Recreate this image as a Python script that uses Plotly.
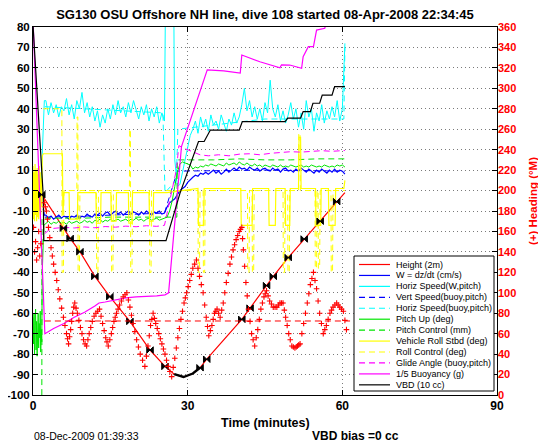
import plotly.graph_objects as go

# ---------------- data ----------------
T_DESC = [2.5, 3.0, 3.5, 4.0, 4.5, 5.0, 5.5, 6.0, 6.5, 7.0, 7.5, 8.0, 8.5, 9.0, 9.5, 10.0,
          10.5, 11.0, 11.5, 12.0, 12.5, 13.0, 13.5, 14.0, 14.5, 15.0, 15.5, 16.0, 16.5, 17.0,
          17.5, 18.0, 18.5, 19.0, 19.5, 20.0, 20.5, 21.0, 21.5, 22.0, 22.5, 23.0, 23.5, 24.0,
          24.5, 25.0, 25.5]
T_ASC = [31.0, 31.5, 32.0, 32.5, 33.0, 33.5, 34.0, 34.5, 35.0, 35.5, 36.0, 36.5, 37.0, 37.5,
         38.0, 38.5, 39.0, 39.5, 40.0, 40.5, 41.0, 41.5, 42.0, 42.5, 43.0, 43.5, 44.0, 44.5,
         45.0, 45.5, 46.0, 46.5, 47.0, 47.5, 48.0, 48.5, 49.0, 49.5, 50.0, 50.5, 51.0, 51.5,
         52.0, 52.5, 53.0, 53.5, 54.0, 54.5, 55.0, 55.5, 56.0, 56.5, 57.0, 57.5, 58.0, 58.5,
         59.0, 59.5, 60.0, 60.5]

# Height (2m) - depth track
depth_pts = [(0.0, 0), (1.6, 0), (1.7, -2), (3.0, -7), (5.9, -18.4), (7.2, -23.4), (9.1, -29.9),
             (12.0, -42), (14.9, -51.9), (18.8, -64), (22.7, -78), (25.6, -86), (27.4, -89.8),
             (29.2, -91.2), (31.0, -89.5), (32.4, -86.7), (33.7, -82.5), (36.5, -74.5), (40.5, -63),
             (42.1, -57.5), (45.3, -46.5), (46.6, -42), (49.5, -32.8), (52.6, -23.7), (55.7, -15),
             (58.9, -5.4), (60.5, -1)]
# guidance & control points on the depth track
gc_pts = [(1.7, -2), (5.9, -18.4), (7.2, -23.4), (9.1, -29.9), (12.0, -42), (14.9, -51.9),
          (18.8, -64), (22.7, -78), (25.6, -86), (32.4, -86.7), (33.7, -82.5), (40.5, -63),
          (42.1, -57.5), (45.3, -46.5), (46.6, -42), (49.5, -32.8), (52.6, -23.7), (55.7, -15),
          (58.9, -5.4)]

# W = dz/dt (cm/s)
w_pre = [(2.0, -9), (2.2, -12)]
w_desc = [-12, -13.5, -12.5, -14, -13, -12, -13.5, -12.5, -13, -14, -12.5, -13, -12, -13.5, -12.5,
          -13, -11.5, -12.5, -13, -11.5, -12, -11, -12.5, -11, -10.5, -12, -11, -10, -11.5, -10.5,
          -12, -11, -10, -11.5, -10.5, -11, -12, -10.5, -11.5, -10, -11, -12, -10.5, -11, -10,
          -11.5, -11]
w_mid = [(26.0, -8), (26.5, -6), (27.0, -5), (27.5, -4), (28.0, -2), (28.5, 0), (29.0, 1),
         (29.5, 2), (30.0, 4), (30.5, 5.5)]
w_asc = [6.5, 7.5, 7, 8.5, 8, 9, 8, 9, 10, 8.5, 9.5, 8, 9, 10.5, 9, 10, 11, 10, 11.5, 10.5, 11, 10,
         11.5, 10.5, 10, 11, 9.5, 10.5, 11, 10, 9.5, 11, 10, 10.5, 9, 10.5, 11, 9.5, 10, 9, 10.5,
         9.5, 11, 10, 9, 10.5, 9.5, 8.5, 10, 9, 10.5, 9.5, 8.5, 10, 9, 10.5, 9, 10, 9.5, 8]

# Horiz Speed (W,pitch)
hs_pre = [(1.6, 5), (1.9, 25), (2.2, 44)]
hs_desc = [44, 37, 43, 38, 42, 36, 41, 39, 45, 37, 42, 35, 44, 40, 48, 38, 43, 36, 41, 34, 39, 31,
           37, 33, 40, 35, 42, 37, 44, 38, 41, 36, 43, 38, 44, 39, 35, 41, 37, 42, 34, 40, 36, 41,
           33, 38, 34]
hs_mid = [(25.7, 95), (26.6, 95), (27.3, 95), (27.5, 15), (28.0, 2), (28.5, 3), (29.0, 9),
          (29.5, 16), (30.0, 22), (30.5, 27)]
hs_asc = [30, 34, 28, 36, 31, 35, 29, 37, 32, 34, 30, 37, 33, 29, 35, 32, 38, 33, 36, 42, 50, 39,
          44, 36, 41, 35, 40, 34, 43, 38, 54, 40, 36, 42, 34, 39, 33, 37, 43, 35, 40, 31, 38, 30,
          44, 36, 40, 29, 38, 34, 42, 33, 39, 35, 41, 36, 44, 34, 40, 72]

# Vert Speed (buoy,pitch)
vsb_pts = [(2.3, -13), (10.0, -12.5), (25.5, -11), (28.0, 9.5), (45.0, 10), (60.5, 9.5)]
# Horiz Speed (buoy,pitch)
hsb_pts = [(2.3, 41), (25.2, 38), (25.6, -1), (27.8, 5), (28.1, 30), (45.0, 35), (60.3, 35),
           (60.5, 70)]

# Pitch Up (deg)
pitch_pre = [(0.0, -62), (0.1, -75), (0.2, -60), (0.3, -80), (0.4, -66), (0.5, -58), (0.6, -78),
             (0.7, -64), (0.8, -81), (0.9, -70), (1.0, -60), (1.1, -77), (1.2, -65), (1.3, -72),
             (1.4, -59), (1.5, -79), (1.6, -68), (1.7, -74), (1.8, -40), (2.1, -17)]
pitch_desc = [-16, -15, -16.5, -15.5, -16, -15, -16, -15.5, -16.5, -15, -16, -15.5, -15, -16,
              -15.5, -14.5, -15.5, -15, -16, -14.5, -15, -14, -15.5, -14.5, -15, -14, -15, -14.5,
              -14, -15, -14.5, -14, -15, -14, -14.5, -13.5, -14.5, -14, -15, -14, -13.5, -14.5,
              -14, -13.5, -14.5, -14, -13.5]
pitch_mid = [(26.0, -13), (26.5, -10), (27.0, -5), (27.5, 2), (28.0, 9), (28.5, 13), (29.0, 14),
             (29.5, 13.5), (30.0, 13), (30.5, 12.5)]
pitch_asc = [10.5, 11.5, 11, 12, 11.5, 12.5, 12, 13, 12.5, 12, 13, 12.5, 12, 13.5, 12.5, 13, 13.5,
             12.5, 14, 13, 12.5, 13.5, 12.5, 12, 13, 12, 12.5, 11.5, 12.5, 12, 11.5, 12.5, 12,
             11.5, 12.5, 11.5, 12, 11.5, 12.5, 12, 11.5, 12, 12.5, 11.5, 12, 11.5, 12.5, 12, 11.5,
             12, 11.5, 12.5, 12, 11.5, 12, 11.5, 12.5, 12, 12.5, 11.5]

# Pitch Control (mm)
pc_pts = [(0.0, -130), (1.7, -130), (1.75, -13.5), (5.0, -13.5), (10.0, -13.5), (15.0, -13),
          (20.0, -13), (25.5, -13), (27.9, -13), (28.0, 15), (35.0, 15), (40.0, 15.5), (45.0, 15),
          (50.0, 15), (55.0, 15.5), (60.5, 15.5)]

# Vehicle Roll Stbd (deg)
roll_pts = [(0.0, 12), (0.1, -14), (0.2, 9), (0.3, -15), (0.4, 13), (0.5, -12), (0.6, 10),
            (0.7, -15), (0.8, 11), (0.9, -13), (1.0, 8), (1.1, -14), (1.2, 12), (1.3, -10),
            (1.4, 9), (1.5, -12), (1.6, 6), (1.7, -8), (1.8, 17), (2.0, 18), (5.7, 18), (5.8, -12),
            (6.0, -1), (7.0, -1), (7.1, -14), (8.6, -14), (8.7, -1), (12.2, -1), (12.3, -16),
            (13.1, -16), (13.2, -1), (15.1, -1), (15.2, -15), (16.1, -15), (16.2, -1), (18.5, -1),
            (18.6, -16), (19.2, -16), (19.3, -1), (22.5, -1), (22.6, -15), (23.3, -15), (23.4, -1),
            (26.0, -1), (32.0, 1), (32.1, -17), (33.1, -17), (33.2, 1), (40.3, 1), (40.4, -17),
            (42.5, -17), (42.6, 1), (45.7, 1), (45.8, -17), (47.0, -17), (47.1, 1), (48.9, 1),
            (49.0, -17), (49.8, -17), (49.9, 1), (51.5, 1), (51.6, 26), (51.9, 26), (52.0, 1),
            (54.8, 1), (54.9, -17), (55.8, -17), (55.9, 1), (57.3, 1), (57.4, -17), (58.6, -17),
            (58.7, 1), (60.3, 1), (60.5, 5)]

# Roll Control (deg)
rc_pts = [(2.0, 40), (5.6, 40), (5.65, -40), (5.9, -40), (6.0, 0), (8.5, 0), (8.55, 36), (8.7, 36),
          (8.75, -40), (9.0, -40), (9.1, 0), (12.3, 0), (12.35, -40), (12.6, -40), (12.7, 0),
          (15.2, 0), (15.25, -40), (15.5, -40), (15.6, 0), (18.7, 0), (18.75, 30), (18.9, 30),
          (18.95, -40), (19.2, -40), (19.3, 0), (22.6, 0), (22.65, -40), (22.9, -40), (23.0, 0),
          (32.0, 0), (32.05, -40), (32.3, -40), (32.4, 0), (33.0, 0), (33.05, -40), (33.3, -40),
          (33.4, 0), (41.6, 0), (41.65, -40), (41.9, -40), (42.0, 0), (42.5, 0), (42.55, -40),
          (42.8, -40), (42.9, 0), (48.5, 0), (48.55, -40), (48.8, -40), (48.9, 0), (49.4, 0),
          (49.45, -40), (49.7, -40), (49.8, 0), (51.5, 0), (51.55, 28), (51.8, 28), (51.85, 0),
          (54.7, 0), (54.75, -38), (55.0, -38), (55.1, 0), (55.3, 0), (55.35, -38), (55.6, -38),
          (55.7, 0), (57.8, 0), (57.85, -40), (58.1, -40), (58.2, 0), (60.5, 0)]

# Glide Angle (buoy,pitch)
glide_pts = [(2.3, -21), (3.0, -19.5), (4.0, -18.5), (6.0, -18), (8.0, -18.3), (10.0, -17.8),
             (12.0, -18.2), (14.0, -17.6), (16.0, -17.9), (18.0, -17.4), (20.0, -17.7),
             (22.0, -17.2), (24.0, -17.5), (25.5, -17), (27.8, 10), (28.3, 22), (29.0, 21),
             (30.0, 20), (31.0, 19), (32.4, 17.5), (34.0, 17), (36.0, 17.5), (38.0, 17),
             (40.0, 17.8), (42.0, 18), (44.0, 17.5), (46.0, 18.2), (48.0, 18.6), (50.0, 19),
             (52.0, 18.8), (54.0, 19.3), (56.0, 19.5), (58.0, 19.2), (60.5, 19.6)]

# 1/5 Buoyancy (g)
buoy_pts = [(0.0, 84), (2.3, -70), (4.0, -67.5), (6.0, -65), (8.0, -62), (10.0, -59.5),
            (12.0, -56.5), (12.8, -55), (14.0, -54.5), (16.0, -53.5), (18.0, -52.5), (20.0, -52),
            (22.0, -51.8), (24.0, -51.5), (25.6, -51), (26.3, -50), (28.8, 21.5), (32.4, 48.4),
            (33.8, 59), (37.0, 58.5), (40.2, 57.5), (40.5, 66.3), (44.0, 63), (47.9, 60),
            (48.2, 61.5), (49.8, 61.4), (52.1, 59.8), (52.4, 65.5), (53.4, 70.4), (54.4, 70.4),
            (55.0, 78.5), (56.6, 79.4), (57.0, 84), (61.0, 90)]

# VBD (10 cc)
vbd_pts = [(0.0, 81), (2.0, -3), (2.1, -24.5), (25.8, -24.5), (28.5, -1.4), (32.1, 24),
           (33.2, 24), (34.4, 29.6), (40.0, 29.6), (40.6, 33.7), (48.9, 33.7), (49.4, 35.4),
           (51.9, 35.4), (52.4, 38.6), (53.8, 38.6), (54.3, 42.7), (55.6, 42.7), (56.1, 46.7),
           (58.0, 46.7), (58.5, 50.8), (60.5, 50.8)]

# Heading (deg, right axis)
heading_pts = [
    (0.1, 164), (0.3, 140), (0.5, 150), (0.7, 132), (0.9, 144), (1.1, 160), (1.3, 136), (1.5, 148),
    (2.2, 188), (2.4, 184), (2.6, 180), (2.8, 172), (3.0, 164), (3.25, 154), (3.5, 144),
    (3.75, 136), (4.0, 128), (4.3, 120), (4.6, 112), (4.9, 103), (5.2, 94), (5.55, 85), (5.9, 76),
    (6.2, 68), (6.5, 60), (6.7, 55), (6.9, 50), (7.1, 57), (7.3, 64), (7.5, 72), (7.7, 80),
    (7.9, 86), (8.1, 90), (8.35, 85), (8.6, 80), (8.9, 73), (9.2, 66), (9.5, 60), (9.8, 54),
    (10.1, 50), (10.4, 48), (10.65, 54), (10.9, 60), (11.2, 66), (11.5, 72), (11.85, 77),
    (12.2, 80), (12.55, 82), (12.9, 84), (13.2, 77), (13.5, 70), (13.8, 63), (14.1, 56),
    (14.35, 52), (14.6, 48), (14.9, 54), (15.2, 60), (15.45, 66), (15.7, 72), (15.95, 76),
    (16.2, 80), (16.5, 84), (16.8, 88), (17.15, 92), (17.5, 96), (17.85, 98), (18.2, 100),
    (18.5, 93), (18.8, 86), (19.1, 78), (19.4, 70), (19.75, 62), (20.1, 54), (20.45, 47),
    (20.8, 40), (21.25, 34), (21.7, 28), (22.0, 38), (22.3, 48), (22.55, 58), (22.8, 68),
    (23.05, 74), (23.3, 80), (23.55, 75), (23.8, 70), (24.1, 65), (24.4, 60), (24.7, 55),
    (25.0, 50), (25.3, 45), (25.6, 40), (25.9, 34), (26.2, 28), (26.55, 23), (26.9, 18),
    (27.2, 27), (27.5, 36), (27.8, 46), (28.1, 56), (28.4, 65), (28.7, 74), (29.0, 82),
    (29.3, 90), (29.55, 95), (29.8, 100), (30.1, 106), (30.4, 112), (30.7, 118), (31.0, 124),
    (31.35, 128), (31.7, 132), (32.0, 124), (32.3, 116), (32.65, 108), (33.0, 100), (33.3, 88),
    (33.6, 76), (33.85, 67), (34.1, 58), (34.4, 63), (34.7, 68), (34.95, 74), (35.2, 80),
    (35.45, 82), (35.7, 84), (36.0, 80), (36.3, 76), (36.6, 83), (36.9, 90), (37.2, 100),
    (37.5, 110), (37.85, 119), (38.2, 128), (38.5, 135), (38.8, 142), (39.1, 147), (39.4, 152),
    (39.7, 156), (40.0, 160), (40.25, 162), (40.5, 164), (40.65, 153), (40.8, 142), (41.05, 126),
    (41.3, 110), (41.55, 97), (41.8, 84), (42.1, 72), (42.4, 60), (42.7, 54), (43.0, 48),
    (43.3, 56), (43.6, 64), (43.9, 74), (44.2, 84), (44.5, 90), (44.8, 96), (45.05, 99),
    (45.3, 102), (45.6, 97), (45.9, 92), (46.25, 89), (46.6, 86), (46.95, 86), (47.3, 86),
    (47.6, 88), (47.9, 90), (48.2, 90), (48.5, 90), (48.75, 83), (49.0, 76), (49.3, 68),
    (49.6, 60), (49.9, 54), (50.2, 48), (50.5, 47), (50.8, 46), (51.05, 47), (51.3, 48),
    (51.55, 49), (51.8, 50), (52.15, 60), (52.5, 70), (52.85, 80), (53.2, 90), (53.5, 99),
    (53.8, 108), (54.1, 114), (54.4, 120), (54.7, 112), (55.0, 104), (55.3, 92), (55.6, 80),
    (55.95, 70), (56.3, 60), (56.6, 64), (56.9, 68), (57.25, 74), (57.6, 80), (57.9, 83),
    (58.2, 86), (58.55, 88), (58.9, 90), (59.2, 88), (59.5, 86), (59.85, 84), (60.2, 82),
    (60.5, 73), (60.8, 64)]
target_heading = [(2.3, 72.4), (61.5, 72.4)]

X_TICKS = [0, 30, 60, 90]
Y_TICKS = [-100, -90, -80, -70, -60, -50, -40, -30, -20, -10, 0, 10, 20, 30, 40, 50, 60, 70, 80]
Y2_TICKS = [0, 20, 40, 60, 80, 100, 120, 140, 160, 180, 200, 220, 240, 260, 280, 300, 320, 340, 360]

LEGEND_LABELS = ["Height (2m)", "W = dz/dt (cm/s)", "Horiz Speed(W,pitch)",
                 "Vert Speed(buoy,pitch)", "Horiz Speed(buoy,pitch)", "Pitch Up (deg)",
                 "Pitch Control (mm)", "Vehicle Roll Stbd (deg)", "Roll Control (deg)",
                 "Glide Angle (buoy,pitch)", "1/5 Buoyancy (g)", "VBD (10 cc)"]

TITLE = "SG130 OSU Offshore NH line, dive 108 started 08-Apr-2008 22:34:45"

# ---------------- styles ----------------
RED, BLUE, CYAN, GREEN = "#ff0000", "#0000ff", "#00ffff", "#00e600"
YELLOW, MAGENTA, BLACK = "#ffff00", "#ff00ff", "#000000"
DASH = "6px,4px"
LEG_STYLES = [(RED, "solid"), (BLUE, "solid"), (CYAN, "solid"), (BLUE, DASH), (CYAN, DASH),
              (GREEN, "solid"), (GREEN, DASH), (YELLOW, "solid"), (YELLOW, DASH),
              (MAGENTA, DASH), (MAGENTA, "solid"), (BLACK, "solid")]
FONT = "Liberation Sans, Arial, Helvetica, sans-serif"


def unzip(pts):
    return [p[0] for p in pts], [p[1] for p in pts]


def build(pre, vdesc, mid, vasc):
    xs = [p[0] for p in pre] + T_DESC + [p[0] for p in mid] + T_ASC
    ys = [p[1] for p in pre] + vdesc + [p[1] for p in mid] + vasc
    return xs, ys


fig = go.Figure()


def line(x, y, color, dash="solid", width=1.0, yaxis="y"):
    fig.add_trace(go.Scatter(x=x, y=y, mode="lines", yaxis=yaxis,
                             line=dict(color=color, width=width, dash=dash),
                             hoverinfo="skip"))


dx, dy = unzip(depth_pts)
line(dx, dy, RED, width=1.2)
vx, vy = unzip(vsb_pts)
line(vx, vy, BLUE, DASH)
hx, hy = unzip(hsb_pts)
line(hx, hy, CYAN, DASH)
wx, wy = build(w_pre, w_desc, w_mid, w_asc)
line(wx, wy, BLUE, width=1.2)
sx, sy = build(hs_pre, hs_desc, hs_mid, hs_asc)
line(sx, sy, CYAN, width=1.0)
px_, py_ = build(pitch_pre, pitch_desc, pitch_mid, pitch_asc)
line(px_, py_, GREEN, width=1.0)
cx, cy = unzip(pc_pts)
line(cx, cy, GREEN, DASH)
rx, ry = unzip(roll_pts)
line(rx, ry, YELLOW, width=1.2)
qx, qy = unzip(rc_pts)
line(qx, qy, YELLOW, DASH)
gx, gy = unzip(glide_pts)
line(gx, gy, MAGENTA, DASH)
bx, by = unzip(buoy_pts)
line(bx, by, MAGENTA, width=1.2)
kx, ky = unzip(vbd_pts)
line(kx, ky, BLACK, width=1.2)

# thick black section at the apogee of the depth track
apx = [t for t, v in depth_pts if 26.0 <= t <= 32.5]
apy = [v for t, v in depth_pts if 26.0 <= t <= 32.5]
line(apx, apy, BLACK, width=2.4)

mx, my = unzip(gc_pts)
fig.add_trace(go.Scatter(x=mx, y=my, mode="markers", hoverinfo="skip",
                         marker=dict(symbol="bowtie", size=6.5, color=BLACK,
                                     line=dict(color=BLACK, width=1))))

# heading on right axis
tx, ty = unzip(target_heading)
line(tx, ty, RED, DASH, width=1.0, yaxis="y2")
hdx, hdy = unzip(heading_pts)
fig.add_trace(go.Scatter(x=hdx, y=hdy, mode="markers", yaxis="y2", hoverinfo="skip",
                         marker=dict(symbol="cross-thin", size=4, color=RED,
                                     line=dict(color=RED, width=1.1))))

# ---------------- layout ----------------
# The page body adds an 8 px offset; positions below are in reference pixels.
OFF = 8
W, H = 546 - OFF, 442 - OFF
X0, X1, Y0, Y1 = 33, 497, 27, 395          # plot box in reference pixels
L, R, T, B = X0 - OFF, 546 - X1, Y0 - OFF, 442 - Y1
PW, PH = X1 - X0, Y1 - Y0


def px2x(px):
    return (px - X0) / PW


def py2y(py):
    return (Y1 - py) / PH


grid = dict(showgrid=True, gridcolor="#7a7a7a", griddash="1px,3px", gridwidth=1)
fig.update_layout(
    width=W, height=H, margin=dict(l=L, r=R, t=T, b=B, autoexpand=False),
    paper_bgcolor="white", plot_bgcolor="white", showlegend=False,
    font=dict(family=FONT, color="black"),
    title=dict(text=TITLE, x=0.5, xref="paper", xanchor="center",
               y=1 - (14 - OFF) / H, yref="container", yanchor="middle",
               font=dict(size=13, weight="bold", family=FONT, color="black")),
    xaxis=dict(range=[0, 90], tickvals=X_TICKS, ticktext=[str(v) for v in X_TICKS],
               ticks="inside", ticklen=5, tickcolor="black", showline=True, linecolor="black",
               linewidth=1, mirror="ticks", zeroline=False, automargin=False,
               tickfont=dict(size=12, weight="bold", family=FONT, color="black"), **grid),
    yaxis=dict(range=[-100, 80], tickvals=Y_TICKS, ticktext=[str(v) for v in Y_TICKS],
               ticks="inside", ticklen=5, tickcolor="black", showline=True, linecolor="black",
               linewidth=1, mirror=True, zeroline=False, automargin=False,
               tickfont=dict(size=11.5, weight="bold", family=FONT, color="black"), **grid),
    yaxis2=dict(range=[0, 360], overlaying="y", side="right", tickvals=Y2_TICKS,
                ticktext=[str(v) for v in Y2_TICKS], ticks="inside", ticklen=5,
                tickcolor="black", showline=False, showgrid=False, zeroline=False,
                automargin=False,
                tickfont=dict(size=11, weight="bold", family=FONT, color=RED)),
)

ann = [
    dict(text="Time (minutes)", x=px2x(265), y=py2y(423), xref="paper", yref="paper",
         showarrow=False, xanchor="center", yanchor="middle",
         font=dict(size=12.5, weight="bold", family=FONT, color="black")),
    dict(text="08-Dec-2009 01:39:33", x=px2x(32), y=py2y(436), xref="paper", yref="paper",
         showarrow=False, xanchor="left", yanchor="middle",
         font=dict(size=10.5, family=FONT, color="black")),
    dict(text="VBD bias =0 cc", x=px2x(355), y=py2y(436), xref="paper", yref="paper",
         showarrow=False, xanchor="center", yanchor="middle",
         font=dict(size=12, weight="bold", family=FONT, color="black")),
    dict(text="(+) Heading (°M)", x=px2x(533), y=py2y(201), xref="paper", yref="paper",
         showarrow=False, xanchor="center", yanchor="middle", textangle=-90,
         font=dict(size=11.5, weight="bold", family=FONT, color=RED)),
]

shapes = [dict(type="rect", xref="paper", yref="paper", x0=px2x(354), x1=px2x(494),
               y0=py2y(391), y1=py2y(256), line=dict(color="black", width=1),
               fillcolor="white", layer="above")]
for i, (label, (col, dash)) in enumerate(zip(LEGEND_LABELS, LEG_STYLES)):
    yy = py2y(264.5 + i * 10.94)
    shapes.append(dict(type="line", xref="paper", yref="paper", x0=px2x(359), x1=px2x(390),
                       y0=yy, y1=yy, line=dict(color=col, width=1.2, dash=dash),
                       layer="above"))
    ann.append(dict(text=label, x=px2x(394), y=yy, xref="paper", yref="paper",
                    showarrow=False, xanchor="left", yanchor="middle",
                    font=dict(size=9, family=FONT, color="black")))

fig.update_layout(annotations=ann, shapes=shapes)
fig.write_html("out.html")
